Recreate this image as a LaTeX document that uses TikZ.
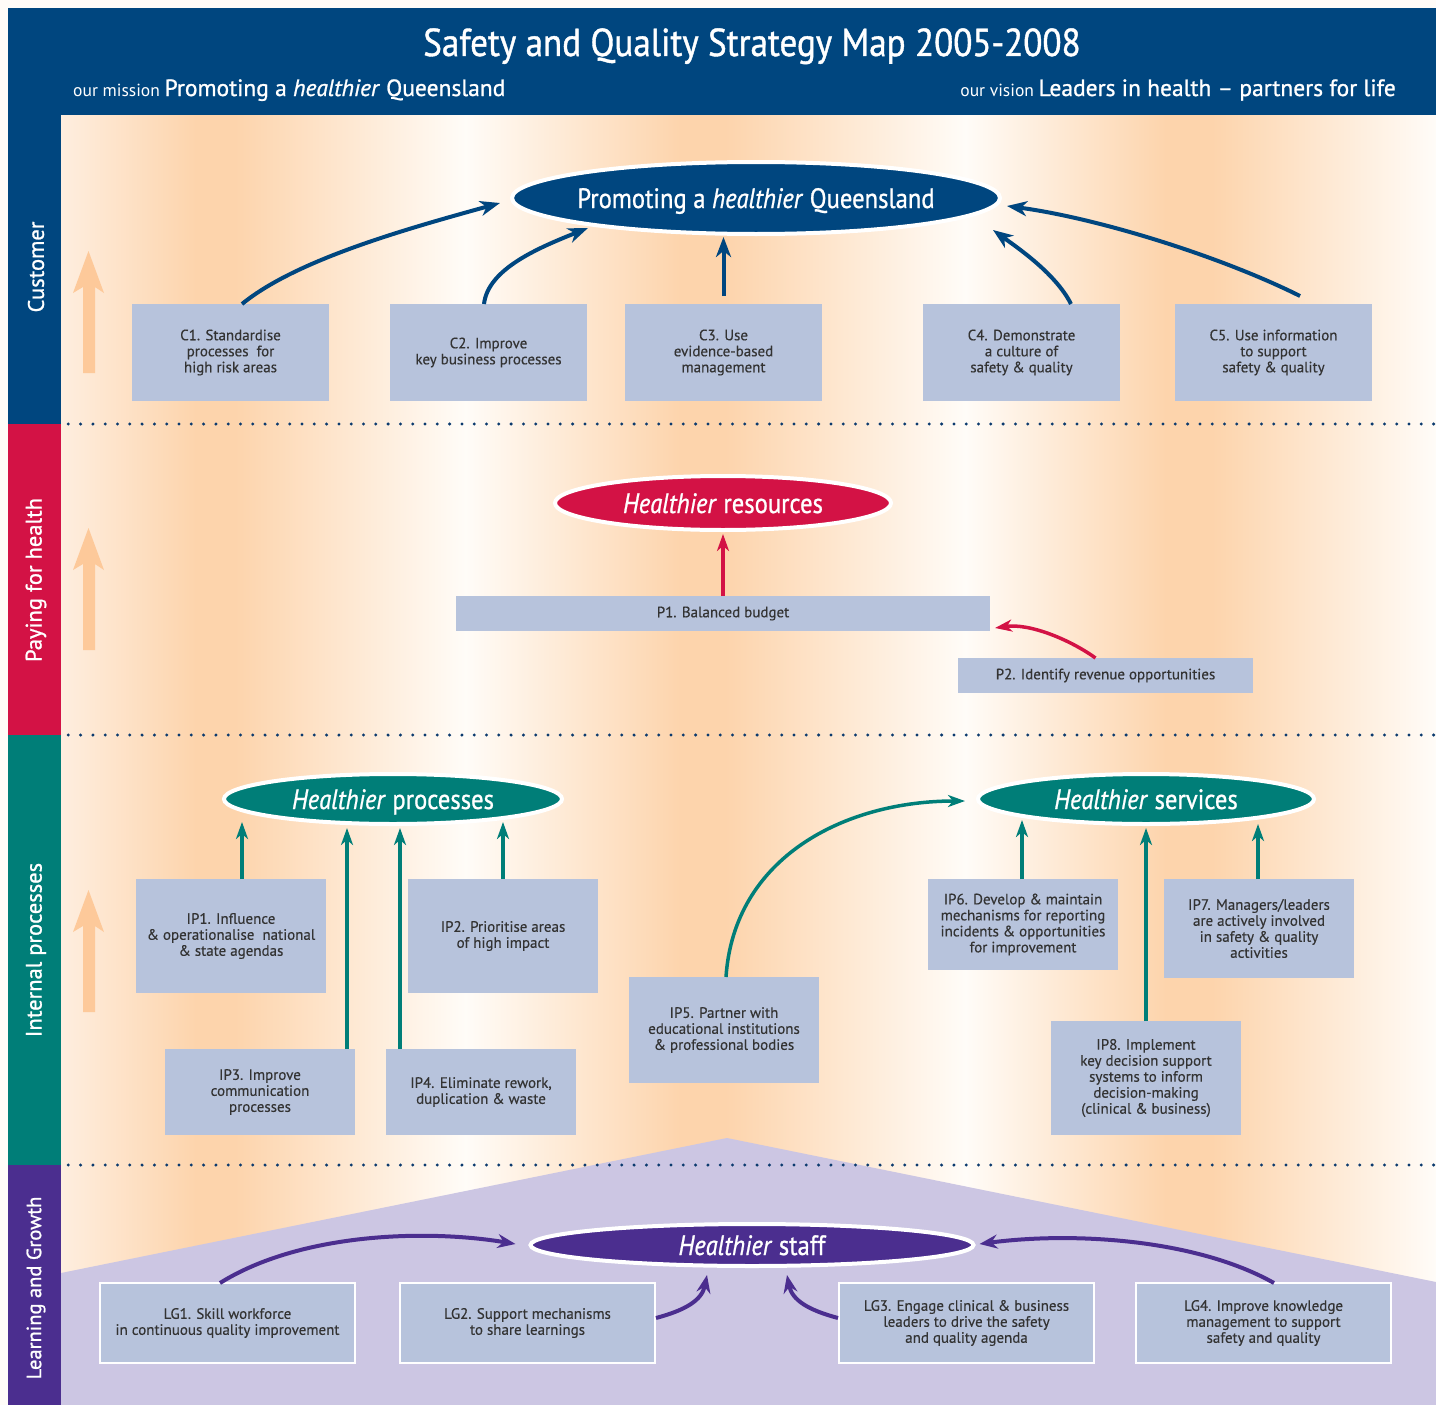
\documentclass[tikz,border=0pt]{standalone}
\usepackage{fontspec}
\setmainfont{PT Sans}
\newfontfamily\titlefont{PT Sans}[FakeStretch=0.9, FakeBold=1.0]
\newfontfamily\medfont{PT Sans}[FakeBold=1.0]
\newfontfamily\goalfont{PT Sans}[FakeStretch=0.88, FakeBold=0.9]
\newfontfamily\boxfont{PT Sans}[FakeBold=0.35]
\usetikzlibrary{arrows.meta,shapes.geometric,calc}

\definecolor{qblue}{HTML}{00467F}
\definecolor{qred}{HTML}{D31245}
\definecolor{qteal}{HTML}{007E78}
\definecolor{qpurple}{HTML}{4B2E8F}
\definecolor{lavender}{HTML}{CCC6E3}
\definecolor{boxfill}{HTML}{B7C3DC}
\definecolor{boxtext}{HTML}{333333}
\definecolor{peach}{HTML}{FDD4AC}
\definecolor{peachlight}{HTML}{FEEEDF}
\definecolor{paper}{HTML}{FFFCF8}
\definecolor{arrowpeach}{HTML}{FDC99A}
\definecolor{dotblue}{HTML}{0B3A6E}

\tikzset{
  goal/.style={ellipse, draw=white, line width=4pt, inner sep=0pt},
  goaltext/.style={text=white, font=\goalfont\fontsize{28}{32}\selectfont, anchor=base, inner sep=0pt},
  objbox/.style={rectangle, fill=boxfill, text=boxtext, align=center, inner sep=0pt,
                 outer sep=0pt, font=\boxfont\fontsize{15}{16}\selectfont},
  cbox/.style={objbox, minimum width=197pt, minimum height=97pt},
  ipbox/.style={objbox, minimum width=190pt},
  lgbox/.style={objbox, draw=white, line width=2pt, minimum width=255pt, minimum height=80pt},
  sidelabel/.style={text=white, rotate=90, font=\medfont\fontsize{22.5}{26}\selectfont, inner sep=0pt},
  headtext/.style={text=white, inner sep=0pt},
  dotrule/.style={draw=dotblue, line width=3.3pt, line cap=round, dash pattern=on 0pt off 12.3pt},
  bluelink/.style={draw=qblue, line width=4pt, -{Stealth[length=20pt,width=15pt,inset=6pt]}},
  redlink/.style={draw=qred, line width=3.5pt, -{Stealth[length=17pt,width=12pt,inset=5pt]}},
  teallink/.style={draw=qteal, line width=3.5pt, -{Stealth[length=17pt,width=12pt,inset=5pt]}},
  purplelink/.style={draw=qpurple, line width=4pt, -{Stealth[length=18pt,width=14pt,inset=6pt]}},
}

\begin{document}
\begin{tikzpicture}[x=1pt,y=-1pt]
\useasboundingbox (0,0) rectangle (1436,1405);
\fill[paper] (0,0) rectangle (1436,1405);

% vertical colour bands of the background
\shade[left color=peachlight, right color=peach] (61,115) rectangle (196,1405);
\fill[peach] (195,115) rectangle (236,1405);
\shade[left color=peach, right color=paper] (235,115) rectangle (466,1405);
\shade[left color=paper, right color=peach] (465,115) rectangle (681,1405);
\fill[peach] (680,115) rectangle (726,1405);
\shade[left color=peach, right color=paper] (725,115) rectangle (966,1405);
\shade[left color=paper, right color=peach] (965,115) rectangle (1166,1405);
\fill[peach] (1165,115) rectangle (1213,1405);
\shade[left color=peach, right color=paper] (1212,115) rectangle (1436,1405);

% learning and growth base
\fill[lavender] (61,1273) -- (727,1138) -- (1436,1282) -- (1436,1405) -- (61,1405) -- cycle;

% perspective separators
\foreach \yy in {424,735,1165}
  \draw[dotrule] (56,\yy) -- (1436,\yy);

% header and side bars
\fill[qblue] (8,8) rectangle (1436,115);
\fill[qblue] (8,115) rectangle (61,424);
\fill[qred] (8,424) rectangle (61,735);
\fill[qteal] (8,735) rectangle (61,1165);
\fill[qpurple] (8,1165) rectangle (61,1405);

% upward arrows beside the perspectives
\foreach \dy in {0,277,639}
  \fill[arrowpeach, shift={(0,\dy)}] (83,373) -- (83,287) -- (73,293) -- (88.5,251)
        -- (104,293) -- (95,287) -- (95,373) -- cycle;

% header texts
\node[headtext, anchor=base, font=\titlefont\fontsize{39}{42}\selectfont] (title) at (752,56)
  {Safety and Quality Strategy Map 2005-2008};
\node[headtext, anchor=base west] (missionline) at (73,96)
  {\fontsize{17.5}{19}\selectfont our mission {\medfont\fontsize{23.5}{26}\selectfont Promoting a \textit{healthier} Queensland}};
\node[headtext, anchor=base east] (visionline) at (1396,96)
  {\fontsize{17.5}{19}\selectfont our vision {\medfont\fontsize{23.5}{26}\selectfont Leaders in health \textendash{} partners for life}};

% perspective names
\node[sidelabel] (lcust) at (36,267) {Customer};
\node[sidelabel] (lpay) at (36,580) {Paying for health};
\node[sidelabel] (lint) at (36,950) {Internal processes};
\node[sidelabel, font=\medfont\fontsize{20.5}{24}\selectfont] (llg) at (36,1288) {Learning and Growth};

% goals
\node[goal, fill=qblue, minimum width=488pt, minimum height=72pt] (mission) at (756,198) {};
\node[goaltext] (missiontext) at ($(mission.center)+(0,10)$) {Promoting a \textit{healthier} Queensland};
\node[goal, fill=qred, minimum width=336pt, minimum height=54pt] (resources) at (723,503) {};
\node[goaltext] (resourcestext) at ($(resources.center)+(0,10)$) {\textit{Healthier} resources};
\node[goal, fill=qteal, minimum width=338pt, minimum height=50pt] (procs) at (393,799) {};
\node[goaltext] (procstext) at ($(procs.center)+(0,10)$) {\textit{Healthier} processes};
\node[goal, fill=qteal, minimum width=336pt, minimum height=50pt] (services) at (1146,799) {};
\node[goaltext] (servicestext) at ($(services.center)+(0,10)$) {\textit{Healthier} services};
\node[goal, fill=qpurple, minimum width=443pt, minimum height=42pt] (staff) at (752,1245) {};
\node[goaltext] (stafftext) at ($(staff.center)+(0,10)$) {\textit{Healthier} staff};

% customer objectives
\node[cbox] (c1) at (230.5,352.5) {C1. Standardise\\processes\ \ for\\high risk areas};
\node[cbox] (c2) at (488.5,352.5) {C2. Improve\\key business processes};
\node[cbox] (c3) at (723.5,352.5) {C3. Use\\evidence-based\\management};
\node[cbox] (c4) at (1021.5,352.5) {C4. Demonstrate\\a culture of\\safety \& quality};
\node[cbox] (c5) at (1273.5,352.5) {C5. Use information\\to support\\safety \& quality};

% financial objectives
\node[objbox, minimum width=534pt, minimum height=35pt] (p1) at (723,613.5) {P1. Balanced budget};
\node[objbox, minimum width=295pt, minimum height=35pt] (p2) at (1105.5,675.5) {P2. Identify revenue opportunities};

% internal process objectives
\node[ipbox, minimum height=114pt] (ip1) at (231,936) {IP1. Influence\\\& operationalise\ \ national\\\& state agendas};
\node[ipbox, minimum height=114pt] (ip2) at (503,936) {IP2. Prioritise areas\\of high impact};
\node[ipbox, minimum height=86pt] (ip3) at (260,1092) {IP3. Improve\\communication\\processes};
\node[ipbox, minimum height=86pt] (ip4) at (481,1092) {IP4. Eliminate rework,\\duplication \& waste};
\node[ipbox, minimum height=106pt] (ip5) at (724,1030) {IP5. Partner with\\educational institutions\\\& professional bodies};
\node[ipbox, minimum height=91pt] (ip6) at (1023,924.5) {IP6. Develop \& maintain\\mechanisms for reporting\\incidents \& opportunities\\for improvement};
\node[ipbox, minimum height=99pt] (ip7) at (1259,928.5) {IP7. Managers/leaders\\are actively involved\\in safety \& quality\\activities};
\node[ipbox, minimum height=114pt] (ip8) at (1146,1078) {IP8. Implement\\key decision support\\systems to inform\\decision-making\\(clinical \& business)};

% learning and growth objectives
\node[lgbox] (lg1) at (227.5,1323) {LG1. Skill workforce\\in continuous quality improvement};
\node[lgbox] (lg2) at (527.5,1323) {LG2. Support mechanisms\\to share learnings};
\node[lgbox] (lg3) at (966.5,1323) {LG3. Engage clinical \& business\\leaders to drive the safety\\and quality agenda};
\node[lgbox] (lg4) at (1263.5,1323) {LG4. Improve knowledge\\management to support\\safety and quality};

% customer links
\draw[bluelink] ($(c1.north)+(11.5,0)$) .. controls +(55,-45) and +(-90,25) .. ($(mission.west)+(-10,5)$);
\draw[bluelink] ($(c2.north)+(-4.5,0)$) .. controls +(4,-35) and +(-50,20) .. ($(mission.center)+(-168,30)$);
\draw[bluelink] ($(c3.north)+(0,-8)$) -- ($(c3.north |- mission.south)+(0,1)$);
\draw[bluelink] ($(c4.north)+(49.5,0)$) .. controls +(-15,-30) and +(25,18) .. ($(mission.center)+(237,32)$);
\draw[bluelink] ($(c5.north)+(26.5,-8)$) .. controls +(-80,-40) and +(90,12) .. ($(mission.east)+(5,8)$);

% financial links
\draw[redlink] (p1.north) -- ($(resources.south)+(0,2)$);
\draw[redlink] ($(p2.north)+(-10,0)$) .. controls +(-25,-18) and +(35,-5) .. ($(p1.south east)+(5,-3)$);

% internal process links
\draw[teallink] ($(ip1.north)+(11,0)$) -- ($(procs.center)+(-151,23)$);
\draw[teallink] (ip2.north) -- ($(procs.center)+(110,23)$);
\draw[teallink] ($(ip3.north)+(87,0)$) -- ($(procs.center)+(-46,29)$);
\draw[teallink] ($(ip4.north)+(-81,0)$) -- ($(procs.center)+(7,29)$);
\draw[teallink] ($(ip5.north)+(2,0)$) .. controls +(8,-120) and +(-120,0) .. ($(services.west)+(-11,2)$);
\draw[teallink] ($(ip6.north)+(-1,0)$) -- ($(services.center)+(-124,21)$);
\draw[teallink] (ip8.north) -- ($(services.center)+(0,29)$);
\draw[teallink] ($(ip7.north)+(-1,0)$) -- ($(services.center)+(112,25)$);

% learning and growth links
\draw[purplelink] ($(lg1.north)+(-7.5,0)$) .. controls +(80,-50) and +(-90,-15) .. ($(staff.west)+(-13,-1)$);
\draw[purplelink] ($(lg2.east)+(1,-5)$) .. controls +(30,-8) and +(-5,25) .. ($(staff.center)+(-45,30)$);
\draw[purplelink] ($(lg3.west)+(-1,-5)$) .. controls +(-30,-8) and +(5,25) .. ($(staff.center)+(35,30)$);
\draw[purplelink] ($(lg4.north)+(10.5,0)$) .. controls +(-80,-45) and +(90,-12) .. ($(staff.east)+(4,-1)$);
\end{tikzpicture}
\end{document}
